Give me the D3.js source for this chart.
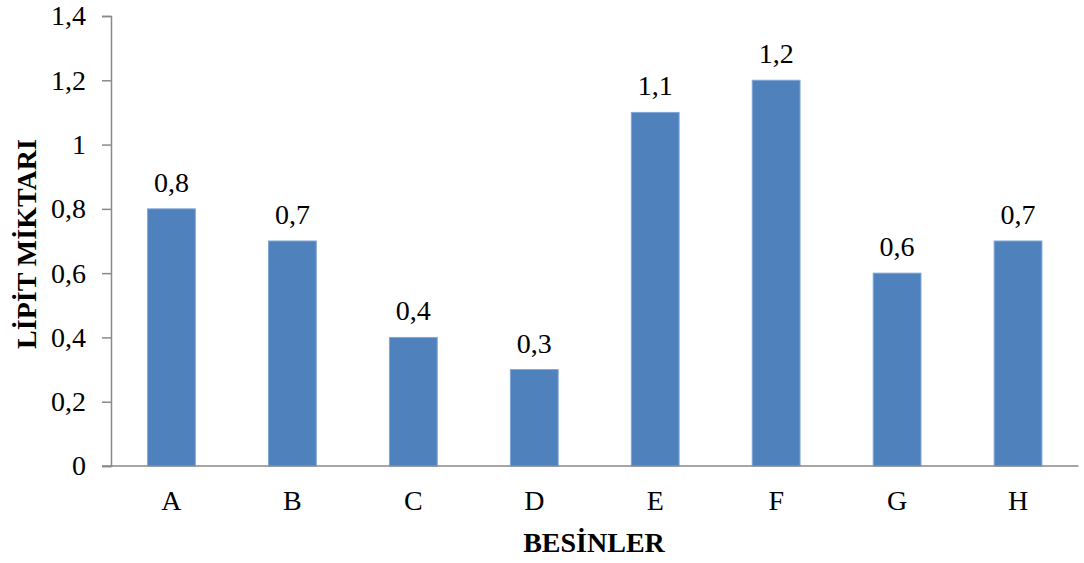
<!DOCTYPE html>
<html>
<head>
<meta charset="utf-8">
<script src="https://cdn.jsdelivr.net/npm/d3@7"></script>
<style>
  html, body { margin: 0; padding: 0; background: #fff; }
  svg { display: block; }
</style>
</head>
<body>
<svg id="chart" width="1084" height="563"></svg>
<script>
// Lipid amount per food
const categories = ["A", "B", "C", "D", "E", "F", "G", "H"];
const values = [0.8, 0.7, 0.4, 0.3, 1.1, 1.2, 0.6, 0.7];
const yTicks = [0, 0.2, 0.4, 0.6, 0.8, 1, 1.2, 1.4];
const xTitle = "BESİNLER";
const yTitle = "LİPİT MİKTARI";

const FONT = "'Liberation Serif', 'Times New Roman', serif";
const FS = 28;

const svg = d3.select("#chart");
const margin = { left: 111, right: 5.5, top: 16, bottom: 97 };
const W = 1084, H = 563;

const x = d3.scaleBand()
  .domain(categories)
  .range([margin.left, W - margin.right])
  .paddingInner(0.605)
  .paddingOuter(0.3025);

const y = d3.scaleLinear()
  .domain([0, 1.4])
  .range([H - margin.bottom, margin.top]);

const fmt = d => String(d).replace(".", ",");

// Bars
svg.append("g")
  .selectAll("rect")
  .data(values)
  .join("rect")
  .attr("x", (d, i) => x(categories[i]))
  .attr("y", d => y(d))
  .attr("width", x.bandwidth())
  .attr("height", d => y(0) - y(d))
  .attr("fill", "#4F81BD")
  .attr("stroke", "#7FA6D6")
  .attr("stroke-width", 1);

// Value labels
svg.append("g")
  .selectAll("text")
  .data(values)
  .join("text")
  .attr("x", (d, i) => x(categories[i]) + x.bandwidth() / 2)
  .attr("y", d => y(d) - 17)
  .attr("text-anchor", "middle")
  .attr("font-family", FONT)
  .attr("font-size", FS)
  .attr("fill", "#000")
  .text(d => fmt(d));

// Y axis
const yAxis = svg.append("g")
  .attr("transform", `translate(${margin.left},0)`)
  .call(d3.axisLeft(y).tickValues(yTicks).tickFormat(fmt).tickSize(9).tickPadding(16));
yAxis.attr("font-family", FONT).attr("font-size", FS);
yAxis.selectAll("line, path").attr("stroke", "#898989").attr("stroke-width", 1.5);
yAxis.selectAll("text").attr("fill", "#000");

// X axis
const xAxis = svg.append("g")
  .attr("transform", `translate(0,${y(0)})`)
  .call(d3.axisBottom(x).tickSize(0).tickPadding(24));
xAxis.attr("font-family", FONT).attr("font-size", FS);
xAxis.select("path").attr("stroke", "#898989").attr("stroke-width", 1.5)
  .attr("d", `M${margin.left - 9},0H${W - margin.right}`);
xAxis.selectAll("text").attr("fill", "#000");

// Axis titles
svg.append("text")
  .attr("x", 594)
  .attr("y", 552)
  .attr("text-anchor", "middle")
  .attr("font-family", FONT)
  .attr("font-size", FS)
  .attr("font-weight", "bold")
  .text(xTitle);

svg.append("text")
  .attr("transform", "translate(36,244) rotate(-90)")
  .attr("text-anchor", "middle")
  .attr("font-family", FONT)
  .attr("font-size", FS)
  .attr("font-weight", "bold")
  .text(yTitle);
</script>
</body>
</html>
